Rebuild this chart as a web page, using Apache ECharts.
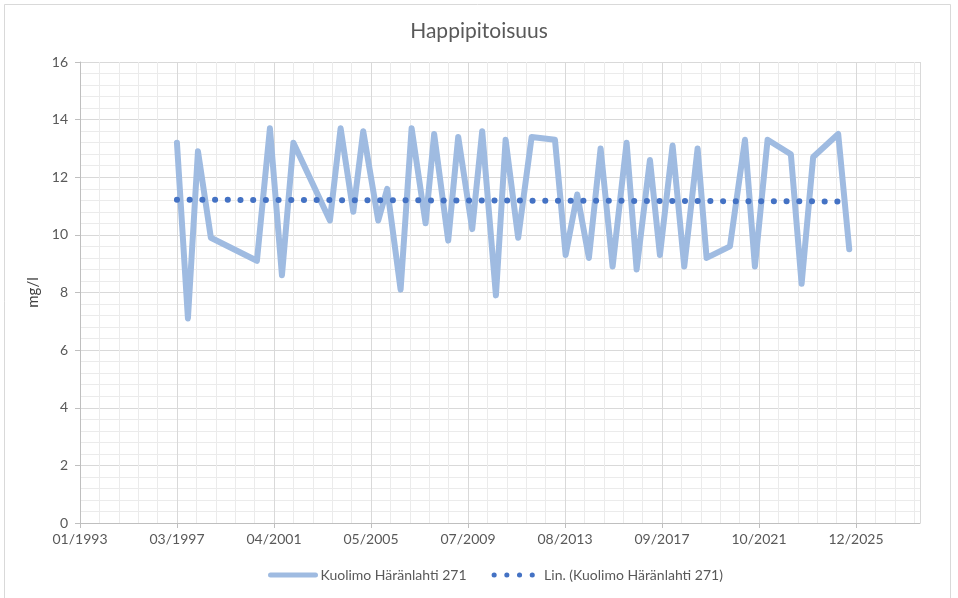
<!DOCTYPE html>
<html>
<head>
<meta charset="utf-8">
<title>Happipitoisuus</title>
<script src="https://cdn.jsdelivr.net/npm/echarts@6/dist/echarts.min.js"></script>
<style>
  html, body { margin: 0; padding: 0; background: #fff; }
  #chart { width: 958px; height: 598px; }
</style>
</head>
<body>
<div id="chart"></div>
<script>
// sample dates and oxygen values (mg/l)
var sampleDates = [
  '1997-03-08', '1997-08-25', '1998-01-27', '1998-08-15', '2000-07-27',
  '2001-02-13', '2001-08-18', '2002-02-11', '2003-08-30', '2004-02-11',
  '2004-08-25', '2005-01-26', '2005-09-15', '2006-02-01', '2006-08-27',
  '2007-02-13', '2007-09-17', '2008-01-28', '2008-09-01', '2009-02-03',
  '2009-09-07', '2010-02-09', '2010-09-09', '2011-02-06', '2011-08-19',
  '2012-03-14', '2013-03-10', '2013-08-22', '2014-02-17', '2014-08-17',
  '2015-02-14', '2015-08-18', '2016-03-22', '2016-08-24', '2017-03-18',
  '2017-08-19', '2018-03-03', '2018-08-30', '2019-03-25', '2019-08-11',
  '2020-08-06', '2021-03-26', '2021-08-27', '2022-03-11', '2023-03-06',
  '2023-08-19', '2024-02-14', '2025-03-07', '2025-08-25'
]
var oxygen = [
  13.2, 7.1, 12.9, 9.9, 9.1,
  13.7, 8.6, 13.2, 10.5, 13.7,
  10.8, 13.6, 10.5, 11.6, 8.1,
  13.7, 10.4, 13.5, 9.8, 13.4,
  10.2, 13.6, 7.9, 13.3, 9.9,
  13.4, 13.3, 9.3, 11.4, 9.2,
  13.0, 8.9, 13.2, 8.8, 12.6,
  9.3, 13.1, 8.9, 13.0, 9.2,
  9.6, 13.3, 8.9, 13.3, 12.8,
  8.3, 12.7, 13.5, 9.5
]
// linear trend line at its two ends
var trendDates = ['1997-03-08', '2025-08-25']
var trendValues = [11.22, 11.16]

var seriesName = 'Kuolimo Häränlahti 271'
var trendName = 'Lin. (Kuolimo Häränlahti 271)'

// x axis runs in days from the first axis label (01/1993), major unit 1500 days
var BASE = Date.UTC(1993, 0, 29)
var DAY = 86400000

function toDay(s) {
  return Math.round((Date.parse(s) - BASE) / DAY)
}
function pad(n) {
  return n < 10 ? '0' + n : '' + n
}
function dayLabel(v) {
  var d = new Date(BASE + v * DAY)
  return pad(d.getUTCMonth() + 1) + '/' + d.getUTCFullYear()
}
function pairs(dates, values) {
  var out = []
  for (var i = 0; i < dates.length; i++) {
    out.push([toDay(dates[i]), values[i]])
  }
  return out
}

var font = 'Lato, "Open Sans", sans-serif'
var textColor = '#595959'
var lineColor = '#9fbbe1'
var trendColor = '#4472c4'
var dots = [0.1, 12.6]

var myChart = echarts.init(document.getElementById('chart'))
var option = {
  animation: false,
  backgroundColor: '#fff',
  textStyle: { fontFamily: font },
  graphic: [{
    type: 'rect',
    silent: true,
    shape: { x: 4.5, y: 4.5, width: 946, height: 610 },
    style: { fill: 'none', stroke: '#d9d9d9', lineWidth: 1 }
  }],
  title: {
    text: 'Happipitoisuus',
    left: 'center',
    top: 16,
    textStyle: { fontFamily: font, fontSize: 21, fontWeight: 'normal', color: textColor }
  },
  legend: {
    bottom: 11,
    left: 263,
    itemWidth: 45,
    itemHeight: 12,
    itemGap: 25,
    textStyle: { fontFamily: font, fontSize: 14, color: textColor },
    data: [
      {
        name: seriesName,
        itemStyle: { opacity: 0 },
        lineStyle: { width: 5, color: lineColor, cap: 'round', type: 'solid' }
      },
      {
        name: trendName,
        itemStyle: { opacity: 0 },
        lineStyle: { width: 5, color: trendColor, cap: 'round', type: dots }
      }
    ]
  },
  grid: { left: 80, right: 38, top: 62, bottom: 75 },
  xAxis: {
    type: 'value',
    min: 0,
    max: 12990,
    interval: 1500,
    axisLine: { show: true, lineStyle: { color: '#bfbfbf', width: 1 } },
    axisTick: { show: true, length: 5, lineStyle: { color: '#bfbfbf' } },
    axisLabel: {
      margin: 9,
      color: textColor,
      fontSize: 14,
      fontFamily: font,
      showMaxLabel: false,
      formatter: dayLabel
    },
    splitLine: { show: true, lineStyle: { color: '#d9d9d9', width: 1 } },
    minorTick: { show: false, splitNumber: 5 },
    minorSplitLine: { show: true, lineStyle: { color: '#ebebeb', width: 1 } }
  },
  yAxis: {
    type: 'value',
    min: 0,
    max: 16,
    interval: 2,
    name: 'mg/l',
    nameLocation: 'middle',
    nameGap: 36,
    nameTextStyle: { fontFamily: font, fontSize: 15, color: '#404040' },
    axisLine: { show: true, lineStyle: { color: '#bfbfbf', width: 1 } },
    axisTick: { show: true, length: 5, lineStyle: { color: '#bfbfbf' } },
    axisLabel: { margin: 12, color: textColor, fontSize: 14, fontFamily: font },
    splitLine: { show: true, lineStyle: { color: '#d9d9d9', width: 1 } },
    minorTick: { show: false, splitNumber: 5 },
    minorSplitLine: { show: true, lineStyle: { color: '#ebebeb', width: 1 } }
  },
  series: [
    {
      name: seriesName,
      type: 'line',
      data: pairs(sampleDates, oxygen),
      showSymbol: false,
      symbol: 'none',
      color: lineColor,
      lineStyle: { width: 6, color: lineColor, join: 'round', cap: 'round' }
    },
    {
      name: trendName,
      type: 'line',
      data: pairs(trendDates, trendValues),
      showSymbol: false,
      symbol: 'none',
      color: trendColor,
      lineStyle: { width: 6, color: trendColor, type: dots, cap: 'round' }
    }
  ]
}
myChart.setOption(option)
</script>
</body>
</html>
